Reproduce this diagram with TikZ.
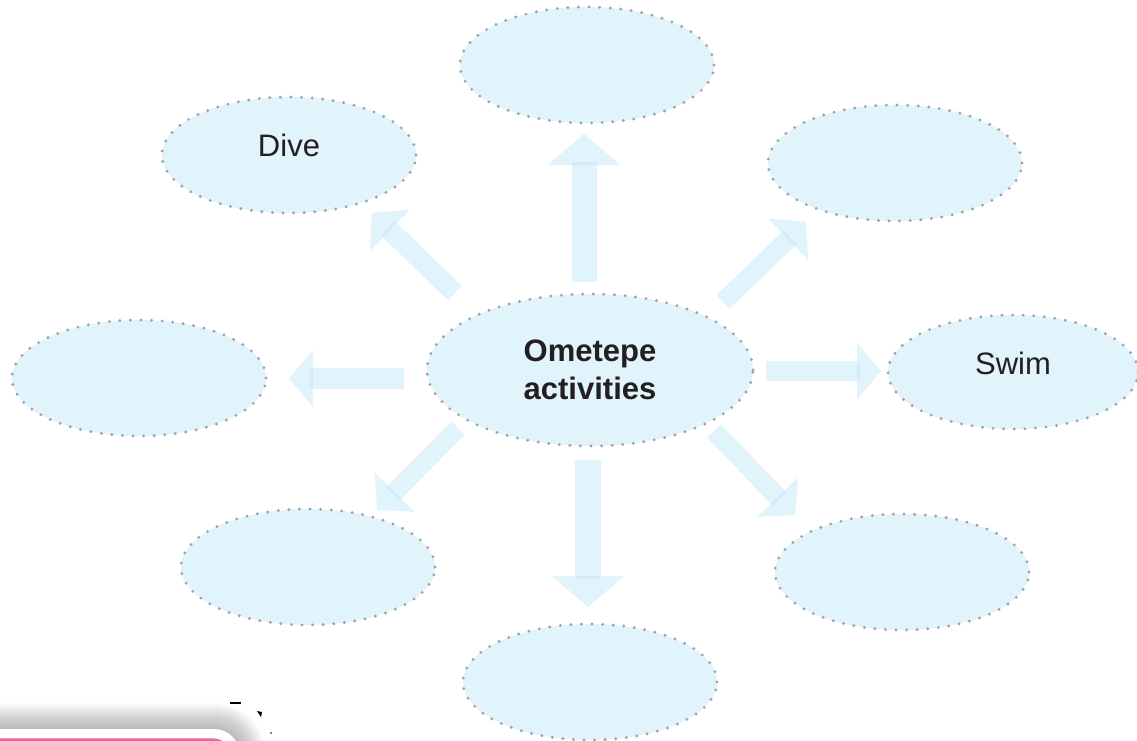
\documentclass[tikz,border=0pt]{standalone}
\usepackage{fontspec}
\setmainfont{Liberation Sans}
\usetikzlibrary{shapes.geometric,calc}
\definecolor{bubble}{RGB}{225,243,251}
\definecolor{arrowc}{RGB}{195,231,247}
\definecolor{dotgray}{RGB}{160,162,165}
\definecolor{ink}{RGB}{35,31,32}
\definecolor{pinkline}{RGB}{236,98,164}
\newcommand{\blockarrow}[5]{%
  \coordinate (ab) at ($(#2)!#5!(#1)$);
  \coordinate (as) at ($(ab)!-3pt!(#1)$);
  \fill[arrowbody] ($(#1)!#3!90:(#2)$) -- ($(#1)!#3!-90:(#2)$) -- ($(as)!#3!90:(#1)$) -- ($(as)!#3!-90:(#1)$) -- cycle;
  \fill[arrowbody] ($(ab)!#4!90:(#1)$) -- (#2) -- ($(ab)!#4!-90:(#1)$) -- cycle;
}
\begin{document}
\begin{tikzpicture}[x=1pt,y=-1pt,
  bubblebase/.style={ellipse, fill=bubble, draw=dotgray, line width=3.2pt, line cap=round,
    dash pattern=on 0pt off 10.6pt, inner sep=0pt, text=ink},
  bubble/.style={bubblebase, minimum width=254pt, minimum height=116pt,
    font=\fontsize{31}{38}\selectfont, text height=22pt, text depth=18pt},
  arrowbody/.style={fill=arrowc, fill opacity=0.5}]
\useasboundingbox (0,0) rectangle (1137,741);
\clip (0,0) rectangle (1137,741);

% arrows
\coordinate (upA) at (584,282);   \coordinate (upB) at (584,134);
\coordinate (dnA) at (588,460);   \coordinate (dnB) at (588,607);
\coordinate (trA) at (723,302);   \coordinate (trB) at (806,222);
\coordinate (tlA) at (455,293);   \coordinate (tlB) at (372,213);
\coordinate (lfA) at (404,378.5); \coordinate (lfB) at (289,378.5);
\coordinate (rtA) at (766,371);   \coordinate (rtB) at (881,371);
\coordinate (blA) at (458,428);   \coordinate (blB) at (377,510);
\coordinate (brA) at (714,431);   \coordinate (brB) at (795,515);
\blockarrow{upA}{upB}{12.5pt}{36.5pt}{31pt}
\blockarrow{dnA}{dnB}{13pt}{36pt}{31pt}
\blockarrow{trA}{trB}{9.5pt}{29pt}{25pt}
\blockarrow{tlA}{tlB}{10pt}{29pt}{25pt}
\blockarrow{lfA}{lfB}{10.5pt}{28.5pt}{24pt}
\blockarrow{rtA}{rtB}{10pt}{28.5pt}{24pt}
\blockarrow{blA}{blB}{9.5pt}{28pt}{25pt}
\blockarrow{brA}{brB}{9.6pt}{28.6pt}{25pt}

% bubbles
\node[bubble] (top) at (587,65) {};
\node[bubble] (dive) at (289,155) {Dive};
\node[bubble] (topright) at (895,163) {};
\node[bubble] (left) at (139,378) {};
\node[bubble, minimum width=250pt, minimum height=114pt] (swim) at (1013,372) {Swim};
\node[bubble] (botleft) at (308,567) {};
\node[bubble] (botright) at (902,572) {};
\node[bubble] (bottom) at (590,682) {};
\node[bubblebase, minimum width=326pt, minimum height=152pt, align=center,
  font=\fontsize{31}{38}\selectfont\bfseries] (center) at (590,370) {Ometepe\\activities};

% pink box with shadow at bottom left
\foreach \i [evaluate=\i as \r using 25+\i] in {1,...,26}
  \fill[black, opacity=0.011, rounded corners=\r pt] (-80-\i,729-\i) rectangle (240+\i,820+\i);
\fill[white, rounded corners=26pt] (-80,729) rectangle (240,820);
\draw[pinkline, line width=3.5pt, fill=white, rounded corners=20pt] (-80,740) rectangle (232,820);

% small marks
\draw[black, line width=1.3pt] (230,703) -- (241,703);
\fill[black] (257,711) -- (262,712) -- (261,717) -- cycle;
\fill[black] (271,733) circle (0.8pt);
\end{tikzpicture}
\end{document}
